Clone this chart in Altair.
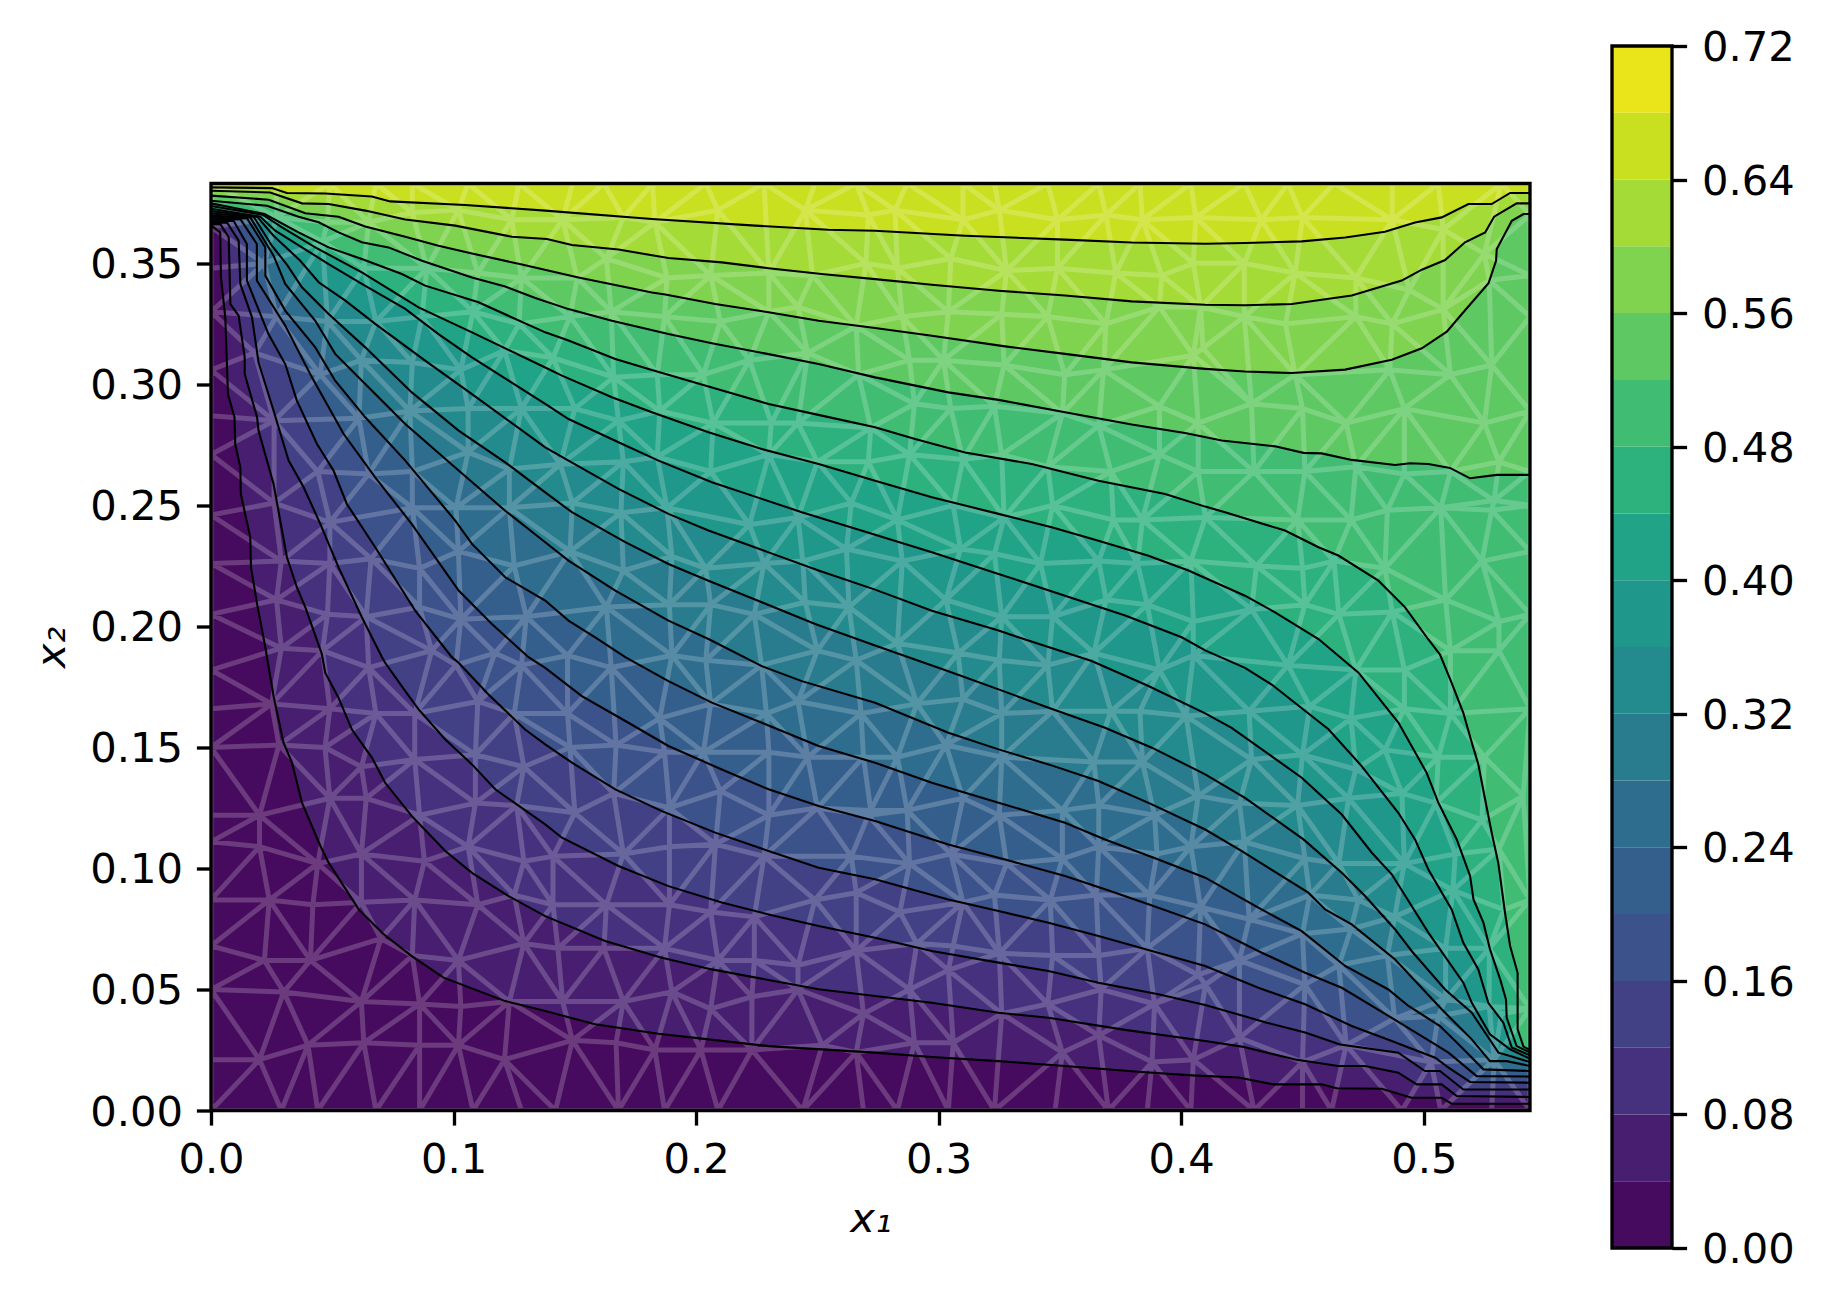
import altair as alt
import pandas as pd

X_MAX = 0.5438
Y_MAX = 0.383
LEVELS = [0.04 * i for i in range(19)]
BAND_COLORS = ["#460b5e","#481f70","#46317e","#424186","#3b528b","#345f8d","#2e6d8e","#297b8e","#238a8d",
               "#1f978b","#20a386","#2db27d","#40bd72","#5ec962","#7fd34e","#a5db36","#c8e020","#eae51a"]

c04 = [(0,.3657),(.0038,.3628),(.0041,.3442),(.0059,.3277),(.0070,.2960),(.0097,.2864),(.0100,.2754),(.0121,.2657),(.0123,.2547),(.0162,.2368),(.0165,.2244),(.0190,.2093),(.0224,.1914),(.0258,.1712),(.0299,.1520),(.0334,.1437),(.0375,.1272),(.0451,.1093),(.0485,.1024),(.0609,.0831),(.0712,.0728),(.0828,.0638),(.0959,.0549),(.1213,.0452),(.1378,.0411),(.1584,.0356),(.1845,.0317),(.2024,.0297),(.2299,.0266),(.2738,.0239),(.2972,.0221),(.3247,.0204),(.3521,.0184),(.3824,.0160),(.4044,.0145),(.4236,.0136),(.4380,.0108),(.4579,.0108),(.4641,.0092),(.4827,.0090),(.4950,.0053),(.5074,.0053),(.5115,.0028),(.5438,.0028)]
c08 = [(0,.3661),(.0038,.3663),(.0073,.3608),(.0080,.3332),(.0114,.3284),(.0139,.3112),(.0139,.3043),(.0190,.2864),(.0196,.2809),(.0258,.2588),(.0313,.2286),(.0354,.2162),(.0389,.2079),(.0457,.1886),(.0471,.1809),(.0526,.1705),(.0581,.1574),(.0664,.1457),(.0718,.1354),(.0828,.1216),(.0966,.1072),(.1076,.0982),(.1227,.0886),(.1378,.0803),(.1625,.0700),(.1859,.0631),(.2065,.0583),(.2299,.0539),(.2505,.0501),(.2738,.0473),(.2972,.0445),(.3247,.0404),(.3453,.0383),(.3769,.0333),(.4099,.0287),(.4250,.0264),(.4470,.0211),(.4648,.0184),(.4758,.0184),(.4895,.0156),(.4971,.0108),(.5074,.0108),(.5136,.0060),(.5438,.0056)]
c12 = [(0,.3667),(.0066,.3669),(.0114,.3594),(.0121,.3415),(.0169,.3277),(.0183,.3181),(.0196,.3091),(.0258,.2891),(.0320,.2685),(.0382,.2575),(.0451,.2423),(.0526,.2244),(.0622,.2038),(.0705,.1873),(.0718,.1850),(.0801,.1733),(.0856,.1657),(.0966,.1533),(.1076,.1430),(.1172,.1327),(.1378,.1182),(.1447,.1127),(.1680,.1010),(.1886,.0927),(.2106,.0859),(.2299,.0810),(.2505,.0762),(.2738,.0714),(.2972,.0659),(.3247,.0611),(.3453,.0576),(.3659,.0528),(.3906,.0480),(.4099,.0436),(.4353,.0363),(.4511,.0322),(.4655,.0273),(.4895,.0239),(.5005,.0163),(.5067,.0163),(.5163,.0087),(.5438,.0087)]
c16 = [(0,.3674),(.0093,.3676),(.0148,.3580),(.0148,.3429),(.0237,.3208),(.0306,.3084),(.0354,.2933),(.0437,.2754),(.0505,.2644),(.0560,.2506),(.0677,.2327),(.0842,.2065),(.0993,.1873),(.1021,.1850),(.1144,.1719),(.1295,.1574),(.1378,.1513),(.1488,.1437),(.1667,.1327),(.1859,.1237),(.2079,.1148),(.2299,.1072),(.2505,.1003),(.2738,.0955),(.3040,.0872),(.3247,.0824),(.3453,.0776),(.3659,.0721),(.3879,.0659),(.4099,.0597),(.4318,.0507),(.4511,.0439),(.4703,.0349),(.4868,.0287),(.5047,.0218),(.5102,.0177),(.5191,.0118),(.5438,.0115)]
c20 = [(0,.3681),(.0121,.3683),(.0189,.3580),(.0189,.3429),(.0306,.3243),(.0416,.3029),(.0547,.2795),(.0677,.2616),(.0828,.2423),(.1021,.2148),(.1158,.2010),(.1309,.1873),(.1378,.1829),(.1529,.1712),(.1721,.1602),(.1886,.1506),(.2106,.1409),(.2299,.1327),(.2505,.1258),(.2738,.1196),(.3040,.1099),(.3274,.1037),(.3521,.0969),(.3686,.0914),(.3865,.0852),(.4099,.0769),(.4332,.0652),(.4511,.0569),(.4662,.0507),(.4868,.0383),(.5047,.0273),(.5102,.0239),(.5218,.0142),(.5438,.0140)]
c24 = [(0,.3689),(.0148,.3687),(.0224,.3566),(.0224,.3449),(.0306,.3305),(.0430,.3153),(.0512,.3015),(.0636,.2864),(.0801,.2685),(.1007,.2437),(.1076,.2341),(.1213,.2203),(.1378,.2107),(.1474,.2024),(.1584,.1955),(.1708,.1873),(.1886,.1774),(.2065,.1685),(.2271,.1602),(.2505,.1506),(.2738,.1437),(.2972,.1354),(.3247,.1272),(.3521,.1189),(.3686,.1120),(.3906,.1037),(.4099,.0962),(.4318,.0838),(.4497,.0741),(.4676,.0597),(.4854,.0500),(.4937,.0432),(.5067,.0349),(.5157,.0260),(.5246,.0170),(.5438,.0163)]
c28 = [(0,.3697),(.0162,.3690),(.0258,.3532),(.0306,.3415),(.0430,.3263),(.0512,.3126),(.0636,.3002),(.0801,.2836),(.1021,.2644),(.1213,.2478),(.1378,.2348),(.1474,.2272),(.1667,.2148),(.1886,.2024),(.2051,.1948),(.2271,.1836),(.2436,.1774),(.2738,.1685),(.3040,.1561),(.3247,.1492),(.3453,.1430),(.3659,.1361),(.3879,.1265),(.4099,.1161),(.4250,.1072),(.4524,.0900),(.4593,.0831),(.4703,.0769),(.4882,.0624),(.5074,.0418),(.5198,.0294),(.5273,.0204),(.5342,.0204),(.5438,.0184)]
c32 = [(0,.3706),(.0176,.3693),(.0251,.3573),(.0313,.3495),(.0375,.3401),(.0485,.3291),(.0636,.3153),(.0828,.2967),(.1021,.2809),(.1213,.2678),(.1378,.2554),(.1488,.2472),(.1708,.2348),(.1886,.2258),(.2051,.2189),(.2271,.2100),(.2491,.2010),(.2738,.1921),(.3040,.1815),(.3247,.1740),(.3453,.1664),(.3686,.1581),(.3879,.1499),(.4099,.1389),(.4263,.1292),(.4504,.1120),(.4662,.0982),(.4758,.0886),(.4882,.0748),(.4950,.0659),(.5088,.0500),(.5198,.0404),(.5308,.0239),(.5356,.0225),(.5438,.0200)]
c36 = [(0,.3716),(.0190,.3693),(.0258,.3614),(.0368,.3511),(.0444,.3422),(.0554,.3346),(.0677,.3250),(.0883,.3098),(.1076,.2960),(.1378,.2740),(.1474,.2685),(.1680,.2568),(.1886,.2465),(.2051,.2396),(.2299,.2306),(.2505,.2231),(.2738,.2152),(.2972,.2065),(.3247,.1983),(.3357,.1946),(.3631,.1857),(.3865,.1754),(.4099,.1641),(.4208,.1581),(.4497,.1375),(.4662,.1223),(.4786,.1065),(.4868,.0976),(.5019,.0735),(.5163,.0528),(.5198,.0445),(.5273,.0315),(.5356,.0253),(.5438,.0214)]
c40 = [(0,.3726),(.0203,.3693),(.0265,.3635),(.0375,.3566),(.0485,.3497),(.0622,.3415),(.0801,.3312),(.0938,.3208),(.1076,.3112),(.1378,.2919),(.1474,.2857),(.1680,.2761),(.1845,.2685),(.2065,.2596),(.2271,.2527),(.2436,.2472),(.2738,.2379),(.2972,.2306),(.3247,.2217),(.3521,.2127),(.3769,.2045),(.4002,.1955),(.4099,.1901),(.4263,.1829),(.4373,.1760),(.4607,.1575),(.4744,.1423),(.4895,.1230),(.4964,.1120),(.5019,.0996),(.5115,.0831),(.5163,.0693),(.5225,.0583),(.5266,.0445),(.5328,.0363),(.5363,.0260),(.5438,.0228)]
c44 = [(0,.3737),(.0213,.3701),(.0293,.3649),(.0430,.3566),(.0622,.3463),(.0856,.3318),(.1076,.3215),(.1378,.3070),(.1447,.3036),(.1653,.2947),(.1818,.2885),(.2051,.2802),(.2271,.2733),(.2505,.2671),(.2738,.2602),(.2972,.2534),(.3247,.2465),(.3466,.2410),(.3659,.2354),(.3865,.2292),(.4030,.2231),(.4263,.2127),(.4387,.2058),(.4566,.1948),(.4731,.1809),(.4896,.1602),(.5012,.1395),(.5060,.1272),(.5136,.1120),(.5191,.0969),(.5205,.0872),(.5246,.0776),(.5273,.0666),(.5315,.0542),(.5339,.0459),(.5342,.0383),(.5383,.0266),(.5438,.0239)]
c48 = [(0,.3748),(.0221,.3704),(.0361,.3628),(.0485,.3566),(.0622,.3518),(.0787,.3456),(.0883,.3408),(.1103,.3339),(.1378,.3215),(.1474,.3181),(.1667,.3105),(.1818,.3059),(.2037,.2995),(.2299,.2919),(.2518,.2871),(.2738,.2823),(.2903,.2774),(.3109,.2719),(.3384,.2671),(.3659,.2602),(.3934,.2547),(.4099,.2495),(.4181,.2472),(.4428,.2396),(.4566,.2327),(.4648,.2293),(.4813,.2189),(.4923,.2079),(.5019,.1946),(.5067,.1884),(.5115,.1767),(.5163,.1643),(.5198,.1520),(.5225,.1430),(.5253,.1285),(.5280,.1148),(.5307,.1024),(.5335,.0817),(.5356,.0680),(.5387,.0569),(.5387,.0335),(.5411,.0264),(.5438,.0250)]
c52 = [(0,.3759),(.0231,.3738),(.0361,.3693),(.0444,.3670),(.0526,.3628),(.0622,.3587),(.0732,.3566),(.0870,.3511),(.1076,.3442),(.1213,.3404),(.1337,.3357),(.1474,.3311),(.1653,.3263),(.1886,.3208),(.2065,.3170),(.2299,.3125),(.2505,.3084),(.2738,.3029),(.3040,.2967),(.3247,.2936),(.3521,.2885),(.3796,.2834),(.4016,.2799),(.4167,.2768),(.4387,.2744),(.4504,.2717),(.4579,.2715),(.4703,.2688),(.4882,.2667),(.4944,.2674),(.5019,.2671),(.5108,.2655),(.5191,.2612),(.5301,.2626),(.5438,.2626)]
c56 = [(0,.3780),(.0238,.3763),(.0389,.3707),(.0526,.3693),(.0636,.3652),(.0801,.3610),(.0938,.3573),(.1076,.3541),(.1282,.3495),(.1515,.3442),(.1818,.3380),(.1873,.3371),(.2079,.3332),(.2299,.3298),(.2505,.3263),(.2738,.3233),(.2972,.3201),(.3274,.3157),(.3521,.3126),(.3796,.3091),(.4099,.3064),(.4263,.3053),(.4456,.3047),(.4676,.3061),(.4868,.3102),(.4992,.3149),(.5095,.3218),(.5157,.3291),(.5267,.3418),(.5298,.3511),(.5301,.3559),(.5363,.3676),(.5411,.3704),(.5438,.3704)]
c60 = [(0,.3800),(.0244,.3793),(.0375,.3748),(.0485,.3745),(.0636,.3718),(.0801,.3681),(.1007,.3656),(.1241,.3610),(.1385,.3601),(.1488,.3576),(.1680,.3557),(.1886,.3522),(.2106,.3504),(.2299,.3480),(.2518,.3456),(.2738,.3435),(.2972,.3412),(.3247,.3387),(.3521,.3367),(.3796,.3343),(.4099,.3329),(.4263,.3327),(.4456,.3332),(.4703,.3367),(.4909,.3429),(.4992,.3474),(.5088,.3514),(.5170,.3587),(.5253,.3628),(.5290,.3693),(.5383,.3748),(.5438,.3748)]
c64 = [(0,.3814),(.0251,.3811),(.0313,.3791),(.0471,.3789),(.0663,.3776),(.0739,.3756),(.1048,.3741),(.1378,.3718),(.1818,.3683),(.2244,.3656),(.2546,.3639),(.2738,.3635),(.3109,.3614),(.3521,.3598),(.3796,.3586),(.4099,.3581),(.4263,.3584),(.4497,.3591),(.4676,.3607),(.4840,.3631),(.4964,.3669),(.5074,.3690),(.5184,.3745),(.5280,.3745),(.5356,.3791),(.5438,.3791)]

contours = [c04, c08, c12, c16, c20, c24, c28, c32, c36, c40, c44, c48, c52, c56, c60, c64]

mesh_nodes = [
 (0,0),(0,.021),(0,.050),(0,.068),(0,.087),(0,.111),(0,.122),(0,.150),(0,.166),(0,.182),(0,.205),(0,.226),(0,.246),(0,.271),(0,.287),(0,.306),(0,.330),(0,.348),(0,.365),(0,.383),
 (.027,.383),(.049,.383),(.068,.383),(.083,.383),(.106,.383),(.127,.383),(.149,.383),(.162,.383),(.182,.383),(.204,.383),(.228,.383),(.249,.383),(.266,.383),(.287,.383),(.310,.383),(.323,.383),(.345,.383),(.366,.383),(.383,.383),(.404,.383),(.426,.383),(.444,.383),(.463,.383),(.487,.383),(.506,.383),(.532,.383),(.5438,.383),
 (.5438,.370),(.5438,.345),(.5438,.328),(.5438,.289),(.5438,.264),(.5438,.250),(.5438,.231),(.5438,.205),(.5438,.166),(.5438,.087),(.5438,.042),(.5438,0),
 (.029,0),(.044,0),(.068,0),(.086,0),(.108,0),(.128,0),(.142,0),(.168,0),(.187,0),(.209,0),(.244,0),(.269,0),(.283,0),(.304,0),(.323,0),(.348,0),(.370,0),(.386,0),(.404,0),(.430,0),(.450,0),(.462,0),(.491,0),(.507,0),(.528,0),
 (.027,.369),(.048,.367),(.065,.367),(.083,.371),(.102,.372),(.124,.368),(.022,.350),(.046,.359),(.063,.348),(.089,.348),(.110,.346),(.128,.344),
 (.027,.328),(.048,.326),(.068,.326),(.087,.328),(.108,.330),(.127,.325),(.018,.313),(.045,.304),(.062,.310),(.083,.309),(.103,.306),(.121,.314),
 (.026,.285),(.061,.286),(.082,.289),(.128,.290),(.106,.290),(.044,.264),(.065,.263),(.083,.264),(.106,.272),(.123,.265),
 (.026,.251),(.049,.243),(.083,.249),(.101,.249),(.123,.249),(.029,.227),(.049,.226),(.066,.228),(.086,.224),(.102,.231),(.125,.225),
 (.027,.211),(.048,.205),(.064,.204),(.086,.208),(.103,.203),(.130,.204),(.029,.191),(.046,.190),(.091,.190),(.117,.189),
 (.065,.183),(.101,.184),(.128,.184),(.025,.168),(.049,.166),(.068,.164),(.084,.164),(.110,.169),(.125,.164),
 (.028,.151),(.047,.150),(.062,.142),(.084,.145),(.109,.147),(.129,.142),(.020,.122),(.049,.129),(.064,.129),(.086,.122),(.109,.127),(.126,.126),
 (.020,.109),(.044,.102),(.062,.106),(.088,.103),(.106,.109),(.129,.103),(.024,.087),(.042,.085),(.062,.086),(.084,.087),(.110,.085),(.125,.089),
 (.022,.062),(.041,.062),(.070,.071),(.083,.064),(.102,.062),(.129,.069),(.030,.049),(.062,.045),(.086,.044),(.103,.043),(.123,.045),
 (.020,.021),(.040,.027),(.063,.028),(.086,.027),(.102,.027),(.121,.021),
 (.145,.368),(.170,.369),(.183,.367),(.209,.372),(.245,.372),(.271,.370),(.163,.352),(.188,.344),(.206,.345),(.230,.346),(.248,.345),(.270,.350),
 (.151,.344),(.165,.330),(.187,.328),(.210,.326),(.230,.330),(.242,.332),(.266,.324),(.141,.311),(.148,.328),(.166,.303),(.184,.304),(.203,.304),(.222,.310),(.246,.313),(.267,.304),
 (.150,.290),(.168,.285),(.185,.289),(.207,.284),(.231,.284),(.242,.284),(.272,.282),(.144,.267),(.170,.268),(.184,.270),(.206,.264),(.230,.271),(.250,.268),(.271,.268),
 (.149,.251),(.169,.247),(.188,.249),(.222,.242),(.242,.245),(.264,.251),(.148,.231),(.170,.223),(.190,.229),(.204,.224),(.228,.226),(.244,.227),(.262,.232),
 (.163,.208),(.189,.209),(.206,.209),(.224,.205),(.245,.210),(.263,.208),
 (.147,.188),(.165,.183),(.190,.188),(.204,.186),(.227,.184),(.250,.190),(.266,.186),(.147,.164),(.185,.162),(.206,.168),(.229,.164),(.242,.169),(.268,.164),
 (.148,.150),(.167,.151),(.187,.148),(.203,.148),(.230,.148),(.246,.146),(.269,.146),(.166,.131),(.189,.125),(.210,.132),(.230,.122),(.250,.125),(.271,.122),
 (.150,.123),(.170,.106),(.189,.109),(.208,.110),(.228,.105),(.264,.105),(.141,.105),(.141,.085),(.163,.085),(.189,.085),(.206,.082),(.224,.080),(.249,.087),(.266,.090),
 (.162,.067),(.187,.067),(.209,.062),(.224,.062),(.242,.060),(.266,.066),(.143,.067),(.145,.045),(.170,.045),(.190,.049),(.206,.042),(.223,.047),(.242,.050),(.269,.040),
 (.149,.029),(.167,.028),(.183,.025),(.202,.025),(.223,.025),(.252,.027),(.266,.024),
 (.282,.372),(.310,.368),(.325,.372),(.349,.368),(.369,.370),(.384,.368),(.406,.369),(.283,.348),(.305,.352),(.328,.347),(.349,.348),(.373,.346),(.392,.345),(.405,.350),
 (.285,.328),(.304,.330),(.326,.329),(.345,.328),(.369,.325),(.391,.332),(.408,.332),(.288,.310),(.302,.310),(.327,.308),(.352,.304),(.368,.306),(.405,.312),
 (.290,.292),(.305,.290),(.323,.291),(.351,.288),(.366,.283),(.391,.291),(.407,.284),(.288,.271),(.310,.269),(.326,.271),(.345,.266),(.371,.264),(.391,.271),(.407,.264),
 (.283,.244),(.306,.250),(.327,.245),(.347,.250),(.372,.244),(.384,.244),(.410,.245),(.285,.227),(.309,.232),(.323,.230),(.342,.226),(.366,.227),(.382,.226),(.404,.227),
 (.303,.211),(.326,.204),(.347,.204),(.369,.211),(.386,.209),(.405,.202),(.283,.193),(.308,.189),(.364,.189),
 (.325,.186),(.345,.184),(.391,.182),(.405,.188),(.291,.168),(.310,.170),(.326,.164),(.347,.165),(.371,.165),(.383,.165),(.402,.163),
 (.303,.151),(.326,.146),(.364,.144),(.384,.144),(.407,.130),(.283,.146),(.272,.124),(.287,.124),(.310,.129),(.325,.122),(.351,.124),(.366,.126),(.389,.122),(.404,.109),
 (.288,.102),(.305,.106),(.328,.102),(.351,.104),(.366,.109),(.390,.106),(.284,.082),(.310,.086),(.323,.089),(.346,.087),(.365,.089),(.387,.089),(.408,.084),
 (.291,.069),(.306,.068),(.325,.065),(.347,.064),(.366,.064),(.386,.067),(.288,.050),(.304,.058),(.345,.044),(.367,.050),(.389,.044),(.407,.056),
 (.326,.040),(.290,.028),(.306,.028),(.351,.024),(.366,.031),(.388,.020),(.405,.021),
 (.433,.368),(.450,.369),(.487,.368),(.508,.364),(.525,.354),(.426,.350),(.447,.346),(.472,.344),(.494,.339),(.409,.315),(.426,.328),(.443,.325),(.472,.328),(.487,.325),(.508,.331),(.527,.343),
 (.429,.292),(.447,.304),(.450,.290),(.468,.284),(.486,.306),(.492,.290),(.511,.304),(.525,.284),(.528,.308),(.430,.264),(.451,.264),(.472,.266),(.492,.263),(.511,.264),(.529,.252),(.531,.268),
 (.448,.244),(.470,.244),(.485,.248),(.507,.249),(.528,.248),(.431,.225),(.463,.227),(.484,.224),(.524,.227),(.450,.224),(.429,.207),(.451,.209),(.465,.205),(.487,.206),(.509,.211),(.531,.202),
 (.444,.184),(.472,.182),(.492,.182),(.511,.190),(.531,.190),(.428,.165),(.453,.167),(.470,.162),(.492,.166),(.511,.164),(.450,.147),(.429,.145),(.472,.141),(.484,.149),(.506,.146),(.525,.146),
 (.448,.126),(.424,.127),(.469,.129),(.491,.131),(.505,.127),(.524,.120),(.541,.130),(.426,.111),(.451,.104),(.465,.102),(.492,.102),(.513,.106),(.531,.108),
 (.453,.089),(.473,.087),(.488,.080),(.512,.091),(.533,.083),(.428,.079),(.450,.073),(.470,.075),(.485,.064),(.509,.067),(.527,.067),
 (.424,.062),(.451,.052),(.465,.060),(.509,.046),(.527,.043),(.410,.052),(.424,.030),(.468,.027),(.488,.038),(.506,.039),(.532,.040),(.450,.020),(.503,.020),(.529,.021),
]


def triangulate_edges(points):
    """Delaunay edges of the mesh nodes (Bowyer-Watson)."""
    pts = list(dict.fromkeys(points))
    n = len(pts)
    pts = pts + [(-50.0, -50.0), (50.0, -50.0), (0.0, 60.0)]
    tris = [(n, n + 1, n + 2)]

    def in_circle(t, p):
        ax, ay = pts[t[0]][0] - p[0], pts[t[0]][1] - p[1]
        bx, by = pts[t[1]][0] - p[0], pts[t[1]][1] - p[1]
        cx, cy = pts[t[2]][0] - p[0], pts[t[2]][1] - p[1]
        det = ((ax * ax + ay * ay) * (bx * cy - cx * by)
               - (bx * bx + by * by) * (ax * cy - cx * ay)
               + (cx * cx + cy * cy) * (ax * by - bx * ay))
        orient = ((pts[t[1]][0] - pts[t[0]][0]) * (pts[t[2]][1] - pts[t[0]][1])
                  - (pts[t[1]][1] - pts[t[0]][1]) * (pts[t[2]][0] - pts[t[0]][0]))
        return det > 0 if orient > 0 else det < 0

    for i in range(n):
        p = pts[i]
        bad = [t for t in tris if in_circle(t, p)]
        count = {}
        for t in bad:
            for e in ((t[0], t[1]), (t[1], t[2]), (t[2], t[0])):
                k = tuple(sorted(e))
                count[k] = count.get(k, 0) + 1
        tris = [t for t in tris if t not in bad]
        for (a, b), c in count.items():
            if c == 1:
                tris.append((a, b, i))
    edges = set()
    for t in tris:
        if max(t) >= n:
            continue
        for e in ((t[0], t[1]), (t[1], t[2]), (t[2], t[0])):
            edges.add(tuple(sorted(e)))
    return [(pts[a], pts[b]) for a, b in sorted(edges)]


# ---- tables built from the arrays above
band_names = [f"b{k:02d}" for k in range(18)]
area_rows = [dict(x=0, y=0, top=Y_MAX, band=band_names[0]),
             dict(x=X_MAX, y=0, top=Y_MAX, band=band_names[0])]
line_rows = []
for k, pts in enumerate(contours, start=1):
    for i, (x, y) in enumerate(pts):
        area_rows.append(dict(x=x, y=y, top=Y_MAX, band=band_names[k]))
        line_rows.append(dict(x=x, y=y, band=band_names[k], i=i))
area_df = pd.DataFrame(area_rows)
line_df = pd.DataFrame(line_rows)

mesh_rows = []
for a, b in triangulate_edges(mesh_nodes):
    mesh_rows.append(dict(x=a[0], y=a[1]))
    mesh_rows.append(dict(x=b[0], y=b[1]))
    mesh_rows.append(dict(x=None, y=None))
mesh_df = pd.DataFrame(mesh_rows, dtype=object)
mesh_df["i"] = range(len(mesh_df))

frame_df = pd.DataFrame({"x": [0], "x2": [X_MAX], "y": [0], "y2": [Y_MAX]})
bar_df = pd.DataFrame({"lo": LEVELS[:-1], "hi": LEVELS[1:], "band": band_names})
bar_frame_df = pd.DataFrame({"lo": [0.0], "hi": [0.72]})

FONT = "DejaVu Sans"
FS = 41.67
LW = 3.33
TICK = 14.6

x_enc = alt.X("x:Q", scale=alt.Scale(domain=[0, X_MAX], nice=False, zero=False),
              axis=alt.Axis(values=[0, .1, .2, .3, .4, .5], format=".1f", grid=False, domain=False,
                            tickSize=TICK, tickWidth=LW, tickColor="black", labelFont=FONT, labelFontSize=FS,
                            labelColor="black", labelPadding=14, labelFlush=False, labelOverlap=False,
                            title="x₁", titleFont=FONT, titleFontSize=FS, titleFontStyle="italic",
                            titleFontWeight="normal", titleColor="black", titlePadding=18))
y_enc = alt.Y("y:Q", scale=alt.Scale(domain=[0, Y_MAX], nice=False, zero=False),
              axis=alt.Axis(values=[0, .05, .10, .15, .20, .25, .30, .35], format=".2f", grid=False, domain=False,
                            tickSize=TICK, tickWidth=LW, tickColor="black", labelFont=FONT, labelFontSize=FS,
                            labelColor="black", labelPadding=14, labelOffset=1.5, labelFlush=False, labelOverlap=False,
                            title="x₂", titleFont=FONT, titleFontSize=FS, titleFontStyle="italic",
                            titleFontWeight="normal", titleColor="black", titlePadding=16))
band_scale = alt.Scale(domain=band_names, range=BAND_COLORS)

bands = alt.Chart(area_df).mark_area(interpolate="linear", clip=True).encode(
    x=x_enc, y=y_enc, y2=alt.Y2("top:Q"),
    color=alt.Color("band:N", scale=band_scale, legend=None))
mesh = alt.Chart(mesh_df).mark_line(stroke="white", strokeWidth=5, opacity=0.2, clip=True).encode(
    x=x_enc, y=y_enc, order="i:Q")
lines = alt.Chart(line_df).mark_line(stroke="black", strokeWidth=2.08, clip=True).encode(
    x=x_enc, y=y_enc, detail="band:N", order="i:Q")
frame = alt.Chart(frame_df).mark_rect(fill=None, stroke="black", strokeWidth=LW).encode(
    x=x_enc, x2="x2:Q", y=y_enc, y2="y2:Q")
main = alt.layer(bands, mesh, lines, frame).properties(width=1319, height=927)

bar_y = alt.Y("lo:Q", scale=alt.Scale(domain=[0, 0.72], nice=False, zero=False),
              axis=alt.Axis(orient="right", values=[0.08 * i for i in range(10)], format=".2f", grid=False,
                            domain=False, tickSize=TICK, tickWidth=LW, tickColor="black", labelFont=FONT,
                            labelFontSize=FS, labelColor="black", labelPadding=15, labelOffset=1.5, labelFlush=False,
                            labelOverlap=False, title=None))
bar = alt.Chart(bar_df).mark_rect().encode(
    y=bar_y, y2="hi:Q", color=alt.Color("band:N", scale=band_scale, legend=None))
bar_frame = alt.Chart(bar_frame_df).mark_rect(fill=None, stroke="black", strokeWidth=LW).encode(
    y=bar_y, y2="hi:Q")
cbar = alt.layer(bar, bar_frame).properties(width=60, height=1202)

chart = alt.hconcat(main, cbar, spacing=82, center=True, bounds="flush").resolve_scale(
    color="independent", x="independent", y="independent"
).configure_view(stroke=None).properties(
    background="white",
    padding={"left": 23, "top": 19, "right": 5, "bottom": 5})

chart.save("out.html", embed_options={"renderer": "svg", "actions": False})
